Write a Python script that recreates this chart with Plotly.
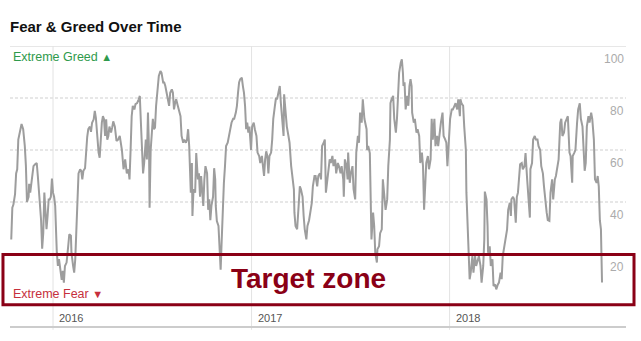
import pandas as pd
import plotly.graph_objects as go

# ---- data: days since 2016-01-01 and Fear & Greed index values ----
days_p1 = [-77,-75,-73,-70,-68,-66,-64,-61,-58,-55,
           -52,-50,-48,-45,-44,-42,-39,-36,-33,-30,
           -28,-27,-25,-22,-20,-18,-16,-14,-12,-10,
           -8,-6,-4,-2,0,2,4,7,9,11,
           13,16,18,20,22,25,28,30,33,34,
           37,39,41,43,45,47,50,52,54,56,
           59,61,63,65,68,70,72,75,77,79,
           82,84,86,88,90,92,94,96,98,100,
           102,104,107,109,111,114,117,120,123,127,
           130,133]
vals_p1 = [25.6,37.8,39,43,51,52.6,64,66.7,70,68,
           61.5,54,40,42,47,43.6,48.7,53.8,54.5,55,
           50,47.4,42,33,22,28,43.6,34.6,29.5,34.6,
           41,41,42,49,43.6,42,38.5,20.5,15.4,18,
           14,10,13.5,9,15.4,16.7,23,27.6,27,20.5,
           15.4,12.8,18,28,41,51,52.6,52,48.7,52,
           53,60,65,68,69,67,70.5,71.8,75,72.4,
           64,59,57,64,70.5,73,71.8,65.4,71.8,64,
           65.4,69,66.7,68.6,71,69,63.5,64,65.4,60,
           52.6,56.4]

days_p2 = [136,139,141,143,145,147,150,152,155,158,
           160,162,164,166,168,171,173,175,177,178,
           180,182,184,186,188,190,192,194,195,198,
           200,203,205,207,210,212,214,216,219,221,
           223,225,227,230,232,235,237,240,242,245,
           247,249,251,253,254,256,257,259,262,264,
           267,269,271,273,275,277,279,281,284,286,
           288,290,292,295,297,299,300,302,305,307,
           309,311,313,315,317,319,322,324,327,329,
           332,334,337,339,341,343,345,348,350,352,
           354]
vals_p2 = [51,52.6,48.7,60,73,77,75.6,77.6,78,79.5,
           80.8,70.5,60,51,55,64,56.4,74.4,60,37.8,
           60,66.7,72,68,68.6,77,82,86,88.5,90.4,
           89.7,86,86,84.6,80.8,78,77,82,83.3,82,
           75.6,78,79.5,77,75.6,73,65.4,62.8,64,62.8,
           64,68,61.5,47.4,43.6,55,34.6,44.9,43.6,58.8,
           48.7,51,42,50,43.6,38.5,48.7,53.8,51,37,
           41,33,38.5,42,53,48.7,38.5,32.7,30.8,20.5,
           14,25.6,41,47.4,53.8,61.5,62.8,65.4,68,70.5,
           72,72,74.4,77,82,86,87.2,87.8,84.6,82,
           77]

days_p3 = [356,358,360,362,365,367,370,372,375,377,
           380,382,385,387,389,391,393,395,397,399,
           402,404,406,409,411,413,416,418,420,422,
           425,426,429,431,434,436,439,441,444,445,
           447,450,452,455,457,460,462,464,467,469,
           472,474,477,479,482,484,487,489,492,494,
           496,499,501,503,506,508,510,512,515,517,
           520,522,525,527,530,532,535,536,538,541,
           543,544,547,549,552,554,557,559,562,564,
           566,569,571,574]
vals_p3 = [68,70.5,66.7,69,60,69,70.5,68,65.4,59,
           57.7,55,57.7,53.8,50,56.4,59.5,57.7,51,57.7,
           59,64,72,77,80,79.5,83.3,84.6,78,72,
           65.4,81.4,73,69,65.4,62.8,53.8,51,44.9,35.9,
           30.8,29.5,38.5,46,44.9,42,34.6,29.5,25.6,30.8,
           33,35.9,39.7,46,50,50,46,50,51,48.7,
           61.5,62.8,64,43.6,50,52.6,56.4,55,57.7,53.8,
           56.4,51,55,53.8,51,53.8,48.7,42,56.4,53.8,
           48.7,59,47.4,51,53.8,44.9,41,59,65.4,62.8,
           74.4,70.5,79.5,72]

days_p4 = [578,579,581,584,586,587,590,592,594,597,
           598,601,603,606,608,611,613,616,618,621,
           622,624,627,629,632,634,636,638,641,643,
           645,646,648,650,653,655,657,659,661,662,
           665,667,670,672,675,677,680,682,684,686,
           688,691,693,696,698,700,703,705,708,710,
           713,715,718,720,723,725,727,730,732,735,
           737,740,742,745,747,750,751,753,756,758,
           761,762,764,766,768,770,773,775,778,780,
           783,785,788,790,793,795]
vals_p4 = [68,60,61.5,58.8,42,25.6,35.9,30.8,20.5,16.7,
           21.8,23,28,29.5,48.7,41,37,41,53.8,64,
           78,79.5,80.8,72,66.7,72,84.6,89.7,93.6,94.9,
           89.7,84.6,86,75.6,80.8,77,84.6,87.2,84.6,74.4,
           70.5,72,66.7,68,65.4,55,59,53.8,37,48.7,
           55,57.7,52.6,56.4,72,64,72,61.5,65.4,61.5,
           68,70.5,74.4,65.4,64,62.8,53.8,64,72,75.6,
           75.6,77,78,75.6,79.5,73,79.5,78,77,69,
           60,43.6,30.8,20.5,10.3,12.8,19.2,12.8,19.2,15.4,
           18,19.2,15.4,9,15.4,25.6]

days_p5 = [796,799,801,802,805,807,810,812,815,817,
           820,822,825,827,829,832,834,837,839,842,
           844,845,848,850,853,855,857,860,861,864,
           866,869,871,874,876,879,880,883,885,888,
           890,893,895,898,900,903,905,907,910,912,
           915,917,920,922,925,927,930,932,935,937,
           939,942,944,947,949,952,954,957,958,961,
           963,966,968,971,973,976,978,980,982,984,
           987,989,992,994,997,999,1002,1004,1006,1008,
           1010,1012]
vals_p5 = [44,41,30.8,20.5,23,15.4,18,7.7,8.3,6.4,
           8.3,9,12.8,10.3,19.2,23,25.6,29.5,37,39.7,
           34.6,41,42,41,32,42,43.6,53.8,54.5,55,
           52.6,53.8,58.8,48.7,41,34,52.6,55,64,65.4,
           64,64,61.5,60,53.8,51,46,41,35.9,33,
           32.7,43.6,48.7,41,48.7,50,55,56.4,70.5,72,
           65.4,66.7,70.5,72,73,59,57.7,47.4,57.7,59,
           60,70.5,75.6,78,72,69,60,52,55,69,
           73,70.5,74.4,72,64,48.7,47.4,50,46,33,
           29.5,9]

y_ticks = [20, 40, 60, 80, 100]
year_labels = ["2016", "2017", "2018"]

# ---- build ----
base = pd.Timestamp("2016-01-01")
all_days = days_p1 + days_p2 + days_p3 + days_p4 + days_p5
all_vals = vals_p1 + vals_p2 + vals_p3 + vals_p4 + vals_p5
dates = [base + pd.Timedelta(days=d) for d in all_days]

FONT = "Liberation Sans, Arial, Helvetica, sans-serif"
GRID = "#cfcfcf"
DARKRED = "#8a0016"

x_start = base - pd.Timedelta(days=79.3)
x_end = base + pd.Timedelta(days=1056.2)
y_min = -8.08

fig = go.Figure()
fig.add_trace(go.Scatter(
    x=dates, y=all_vals, mode="lines",
    line=dict(color="#9d9d9d", width=2),
    hoverinfo="skip", showlegend=False,
))

shapes = []
# horizontal grid lines
for v in y_ticks:
    shapes.append(dict(
        type="line", xref="paper", yref="y", x0=0, x1=1, y0=v, y1=v,
        line=dict(color=GRID, width=1, dash="solid" if v == 100 else "3px,2px"),
        layer="below"))
# vertical year lines
for yl in year_labels:
    shapes.append(dict(
        type="line", xref="x", yref="paper", x0=yl + "-01-01", x1=yl + "-01-01",
        y0=-0.01, y1=1, line=dict(color="#e3e3e3", width=1), layer="below"))
# bottom axis line
shapes.append(dict(type="line", xref="paper", yref="paper", x0=0, x1=1, y0=0, y1=0,
                   line=dict(color="#cccccc", width=2), layer="below"))
# target zone box
shapes.append(dict(type="rect", xref="paper", yref="paper",
                   x0=-0.0114, x1=1.013, y0=0.0794, y1=0.258,
                   line=dict(color=DARKRED, width=3), fillcolor="rgba(0,0,0,0)",
                   layer="above"))

annotations = []
for v in y_ticks:
    annotations.append(dict(
        text=str(v), xref="paper", yref="y", x=1, y=v, xanchor="right",
        yanchor="middle", yshift=-13, showarrow=False,
        font=dict(family=FONT, size=12, color="#ababab")))
for yl in year_labels:
    annotations.append(dict(
        text=yl, xref="x", yref="paper", x=yl + "-01-01", y=0.032,
        xanchor="left", yanchor="middle", xshift=4, showarrow=False,
        font=dict(family=FONT, size=11, color="#555555")))
annotations.append(dict(
    text="<b>Fear &amp; Greed Over Time</b>", xref="paper", yref="paper",
    x=0, y=1, xanchor="left", yanchor="middle", xshift=-2, yshift=20,
    showarrow=False, font=dict(family=FONT, size=15, color="#111111")))
annotations.append(dict(
    text="Extreme Greed <span style='font-size:11px'>▲</span>", xref="paper", yref="y",
    x=0, y=100, xanchor="left", yanchor="middle", xshift=1, yshift=-11,
    showarrow=False, font=dict(family=FONT, size=12.5, color="#2f9a4c")))
annotations.append(dict(
    text="Extreme Fear <span style='font-size:11px'>▼</span>", xref="paper", yref="paper",
    x=0, y=(327 - 294) / 281, xanchor="left", yanchor="middle", xshift=1,
    showarrow=False, font=dict(family=FONT, size=12.5, color="#c6303c")))
annotations.append(dict(
    text="<b>Target zone</b>", xref="paper", yref="paper",
    x=(308 - 10) / 616, y=(327 - 278) / 281, xanchor="center", yanchor="middle",
    showarrow=False, font=dict(family=FONT, size=28, color=DARKRED)))

fig.update_layout(
    width=641, height=341,
    margin=dict(l=10, r=15, t=46, b=14, pad=0),
    paper_bgcolor="white", plot_bgcolor="white",
    xaxis=dict(range=[x_start, x_end], showgrid=False, zeroline=False,
               showline=False, showticklabels=False, ticks="", fixedrange=True),
    yaxis=dict(range=[y_min, 100], showgrid=False, zeroline=False,
               showline=False, showticklabels=False, ticks="", fixedrange=True),
    shapes=shapes, annotations=annotations, showlegend=False,
    hovermode=False,
)

fig.write_html("out.html", config={"displayModeBar": False})
